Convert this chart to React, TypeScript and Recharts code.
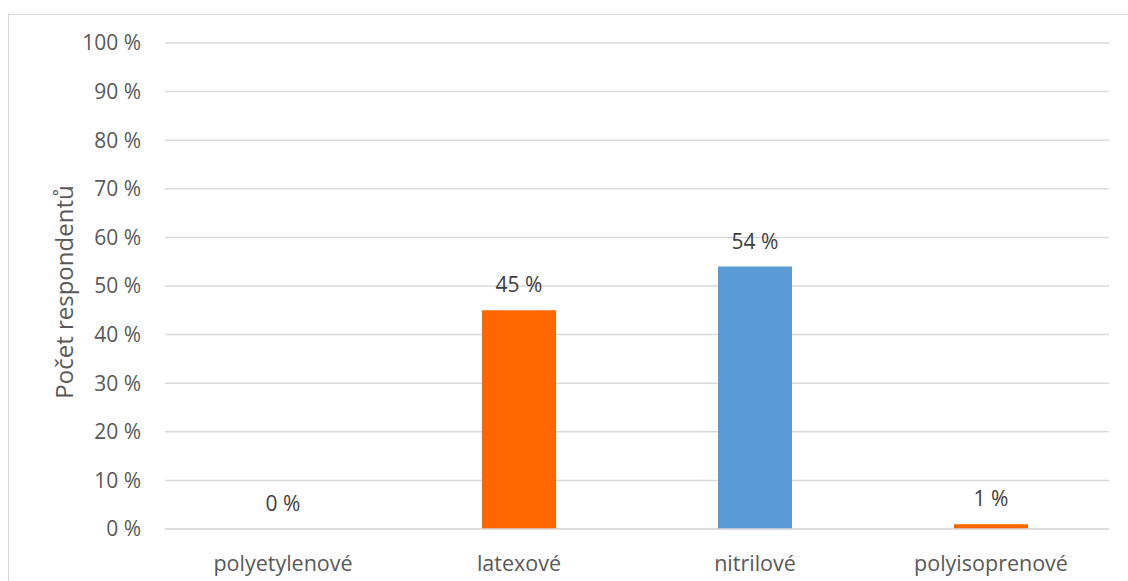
import { BarChart, Bar, XAxis, YAxis, CartesianGrid, Cell, LabelList, Label } from "recharts";

// Glove material preferences among respondents (percent)
const categories = ["polyetylenové", "latexové", "nitrilové", "polyisoprenové"];
const shares = [0, 45, 54, 1];
const barColors = ["#FF6600", "#FF6600", "#5B9BD5", "#FF6600"];
const yTicks = [0, 10, 20, 30, 40, 50, 60, 70, 80, 90, 100];

const data = categories.map((name, i) => ({ name, value: shares[i] }));

const FONT = '"Open Sans", sans-serif';
const GRID = "#d9d9d9";
const TEXT = "#595959";

function AxisTitle({ viewBox }: { viewBox?: { x: number; y: number; width: number; height: number } }) {
  if (!viewBox) return null;
  const x = viewBox.x - 6;
  const y = viewBox.y + viewBox.height / 2 + 6;
  return (
    <text
      x={x}
      y={y}
      transform={`rotate(-90, ${x}, ${y})`}
      textAnchor="middle"
      dominantBaseline="central"
      fill={TEXT}
      fontSize={24}
      fontFamily={FONT}
    >
      Počet respondentů
    </text>
  );
}

export default function App() {
  return (
    // fixed so the frame can run off the page edge without scrollbars
    <div
      style={{
        position: "fixed",
        left: 8,
        top: 14,
        width: 1120,
        height: 567,
        overflow: "hidden",
        borderTop: `1px solid ${GRID}`,
        borderLeft: `1px solid ${GRID}`,
        fontFamily: FONT,
        background: "#fff",
      }}
    >
      <BarChart
        width={1120}
        height={570}
        data={data}
        margin={{ top: 28, right: 20, left: 60, bottom: 16 }}
      >
        <CartesianGrid vertical={false} stroke={GRID} strokeWidth={1.5} />
        <XAxis
          dataKey="name"
          height={40}
          tickLine={false}
          axisLine={{ stroke: GRID, strokeWidth: 1.5 }}
          tickMargin={21}
          tick={{ fill: TEXT, fontSize: 21.5, fontFamily: FONT }}
          interval={0}
        />
        <YAxis
          width={96}
          domain={[0, 100]}
          ticks={yTicks}
          tickFormatter={(v: number) => `${v} %`}
          tickLine={false}
          axisLine={false}
          tickMargin={18}
          tick={{ fill: TEXT, fontSize: 21, fontFamily: FONT }}
        >
          <Label content={(props: any) => <AxisTitle viewBox={props.viewBox} />} />
        </YAxis>
        {/* zero-valued bars keep a hairline so their "0 %" label still renders */}
        <Bar
          dataKey="value"
          barSize={74}
          minPointSize={(v: number) => (v === 0 ? 0.01 : 0)}
          isAnimationActive={false}
        >
          {data.map((d, i) => (
            <Cell key={d.name} fill={barColors[i]} />
          ))}
          <LabelList
            dataKey="value"
            position="top"
            offset={18}
            formatter={(v: any) => `${v} %`}
            fill="#404040"
            fontSize={21}
            fontFamily={FONT}
          />
        </Bar>
      </BarChart>
    </div>
  );
}
